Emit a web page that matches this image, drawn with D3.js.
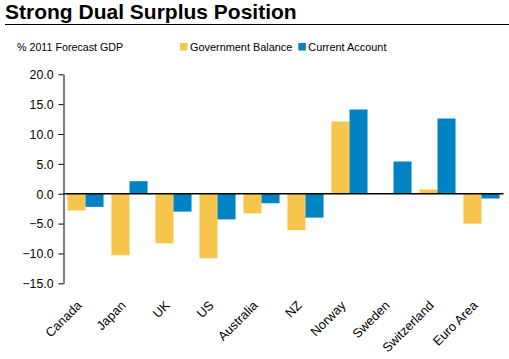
<!DOCTYPE html>
<html><head><meta charset="utf-8">
<script src="https://cdn.jsdelivr.net/npm/d3@7"></script>
<style>body{margin:0;background:#fff}svg{display:block;font-family:"Liberation Sans",Arial,sans-serif}</style>
</head><body>
<svg id="c" width="509" height="359"></svg>
<script>
const categories = ["Canada","Japan","UK","US","Australia","NZ","Norway","Sweden","Switzerland","Euro Area"];
const seriesNames = ["Government Balance","Current Account"];
const govBalance = [-2.8,-10.3,-8.3,-10.8,-3.3,-6.1,12.1,0,0.7,-5.0];
const currentAccount = [-2.2,2.1,-3.0,-4.3,-1.6,-4.0,14.1,5.4,12.6,-0.8];
const yTicks = [-15,-10,-5,0,5,10,15,20];
const colors = ["#F6C54C","#0083C5"];

(function(){
const svg = d3.select("#c");
const mLeft = 63.5, mRight = 503.5, mTop = 74.3, mBottom = 283.3;

svg.append("text").attr("x",5).attr("y",19).attr("font-size",21).attr("font-weight","bold").text("Strong Dual Surplus Position");
svg.append("line").attr("x1",5).attr("x2",509).attr("y1",24.5).attr("y2",24.5).attr("stroke","#000").attr("stroke-width",1);
svg.append("text").attr("x",17).attr("y",51).attr("font-size",10.7).text("% 2011 Forecast GDP");

const lg = svg.append("g");
let lx = 180;
seriesNames.forEach((n,i)=>{
  lg.append("rect").attr("x",lx).attr("y",43).attr("width",7.5).attr("height",7.5).attr("fill",colors[i]);
  const t = lg.append("text").attr("x",lx+10).attr("y",50.5).attr("font-size",10.9).text(n);
  lx += 10 + t.node().getComputedTextLength() + 6;
});

const y = d3.scaleLinear().domain([-15,20]).range([mBottom,mTop]);
const x = d3.scaleBand().domain(categories).range([mLeft,mRight]).paddingInner(0.18).paddingOuter(0.09);
const xs = d3.scaleBand().domain(seriesNames).range([0,x.bandwidth()]);

const data = categories.map((c,i)=>({c, v:[govBalance[i],currentAccount[i]]}));
const g = svg.append("g");
data.forEach(d=>{
  d.v.forEach((v,j)=>{
    if (v===0) return;
    g.append("rect").attr("x",x(d.c)+xs(seriesNames[j])).attr("width",xs.bandwidth())
      .attr("y",y(Math.max(0,v))).attr("height",Math.abs(y(v)-y(0))).attr("fill",colors[j]);
  });
});

const ya = svg.append("g").attr("transform",`translate(${mLeft},0)`)
  .call(d3.axisLeft(y).tickValues(yTicks).tickFormat(d3.format(".1f")).tickSize(5).tickSizeOuter(0));
ya.select(".domain").attr("stroke","#000");
ya.selectAll(".tick line").attr("stroke","#000");
ya.selectAll("text").attr("font-size",12.3).attr("font-family","Liberation Sans, Arial, sans-serif").attr("fill","#000").attr("x",-10).attr("dy","0.35em");

svg.append("line").attr("x1",mLeft).attr("x2",mRight).attr("y1",y(0)).attr("y2",y(0)).attr("stroke","#000").attr("stroke-width",1.5);

const xa = svg.append("g");
categories.forEach(c=>{
  const cx = x(c)+x.bandwidth()/2;
  xa.append("text").attr("transform",`translate(${cx-3},${mBottom+23}) rotate(-45)`)
    .attr("text-anchor","end").attr("font-size",12.8).text(c);
});
})();
</script>
</body></html>
